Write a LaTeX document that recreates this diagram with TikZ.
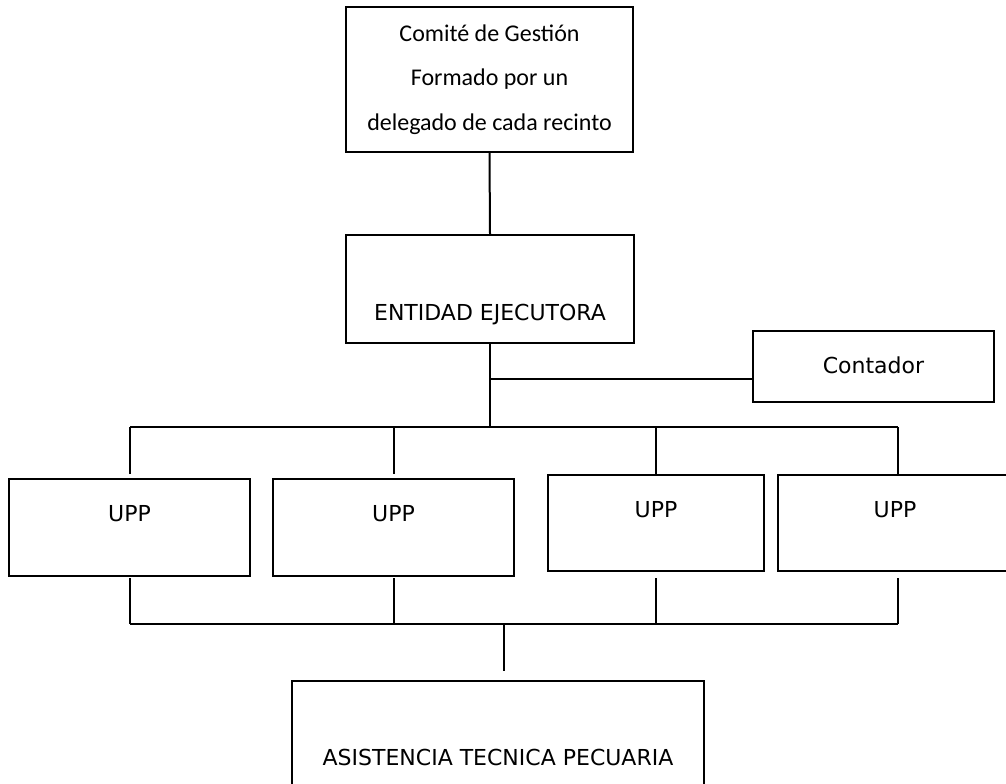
\documentclass[tikz,border=0pt]{standalone}
\usepackage{fontspec}
\usetikzlibrary{calc}
\newfontfamily\tahfont{DejaVu Sans}
\newfontfamily\calfont{Carlito}
\tikzset{
  box/.style 2 args={draw, line width=1.5pt, inner sep=0pt, rectangle,
    minimum width={#1*0.75pt}, minimum height={#2*0.75pt}},
  lab/.style={anchor=base, inner sep=0pt, font=\tahfont\fontsize{16.5}{20}\selectfont},
  conn/.style={line width=1.5pt},
}
\begin{document}
\begin{tikzpicture}[x=0.75pt,y=-0.75pt]
\useasboundingbox (0,0) rectangle (1006,784);
\clip (0,0) rectangle (1006,784);
% boxes
\node[box={287}{145}, align=center, font=\calfont\fontsize{18}{33.4}\selectfont] (cg) at (489.5,79.5)
  {Comité de Gestión\\Formado por un\\delegado de cada recinto};
\node[box={288}{108}, label={[lab, yshift=-19.5pt]center:ENTIDAD EJECUTORA}] (ee) at (490,289) {};
\node[box={241}{71}, label={[lab, yshift=1.1pt]center:Contador}] (ct) at (873.5,366.5) {};
\node[box={241}{97}, label={[lab, yshift=10.1pt]center:UPP}] (u1) at (129.5,527.5) {};
\node[box={241}{97}, label={[lab, yshift=10.1pt]center:UPP}] (u2) at (393.5,527.5) {};
\node[box={216}{96}, label={[lab, yshift=9.75pt]center:UPP}] (u3) at (656,523) {};
\node[box={238}{96}, label={[lab, yshift=9.75pt, xshift=-1.5pt]center:UPP}] (u4) at (897,523) {};
\node[box={412}{119}, label={[lab, yshift=-13.1pt]center:ASISTENCIA TECNICA PECUARIA}] (at) at (498,740.5) {};
% junction coordinates
\coordinate (ctj) at (490,379);
\coordinate (busL) at (130,427);
\coordinate (busR) at (898,427);
\coordinate (bbL) at (130,624);
\coordinate (bbR) at (898,624);
\coordinate (atj) at (504,624);
% connectors
\draw[conn] (cg.south) -- (ee.north);
\draw[conn] (ee.south) -- (ee.south |- busL);
\draw[conn] (ctj) -- (ctj -| ct.west);
\draw[conn] (busL) -- (busR);
\draw[conn] (busL) -- ($(busL |- u1.north)+(0,-4)$);
\draw[conn] (u2.north |- busL) -- ($(u2.north)+(0,-4)$);
\draw[conn] (u3.north |- busL) -- (u3.north);
\draw[conn] (busR) -- (busR |- u4.north);
\draw[conn] (bbL) -- (bbR);
\draw[conn] ($(u1.south -| bbL)+(0,1)$) -- (bbL);
\draw[conn] ($(u2.south)+(0,1)$) -- (u2.south |- bbL);
\draw[conn] ($(u3.south)+(0,6)$) -- (u3.south |- bbL);
\draw[conn] ($(u4.south -| bbR)+(0,6)$) -- (bbR);
\draw[conn] (atj) -- ($(atj |- at.north)+(0,-9)$);
\end{tikzpicture}
\end{document}
